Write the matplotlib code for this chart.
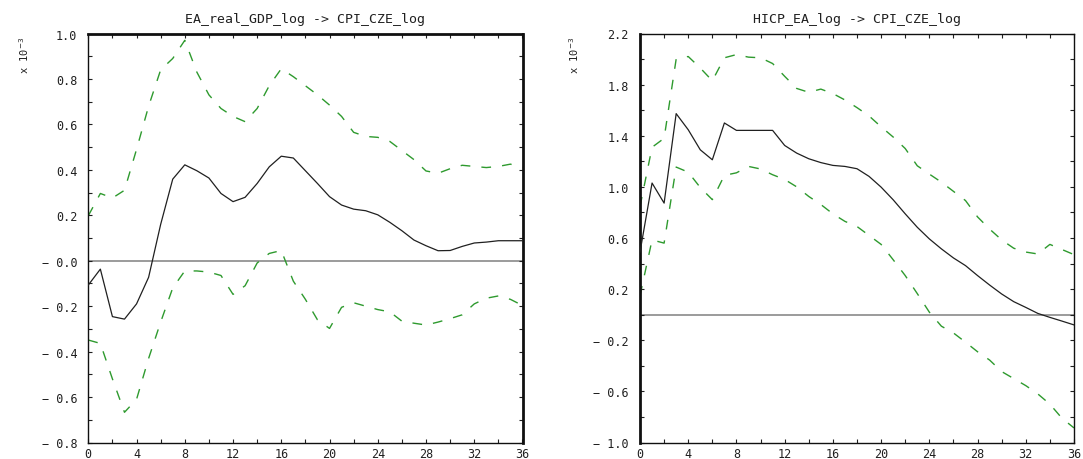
import matplotlib
matplotlib.use("Agg")
import matplotlib.pyplot as plt
from matplotlib.ticker import MultipleLocator, FixedLocator, FixedFormatter
import numpy as np

# ---------------- data ----------------
horizon = list(range(37))

titles = ["EA_real_GDP_log -> CPI_CZE_log", "HICP_EA_log -> CPI_CZE_log"]
scale_label = "x 10$^{-3}$"

gdp_irf = [-0.107, -0.037, -0.246, -0.257, -0.19, -0.073, 0.16, 0.359, 0.422, 0.396,
           0.364, 0.296, 0.26, 0.279, 0.34, 0.413, 0.46, 0.452, 0.396, 0.34,
           0.282, 0.245, 0.227, 0.22, 0.202, 0.169, 0.132, 0.091, 0.066, 0.044,
           0.045, 0.063, 0.078, 0.082, 0.088, 0.088, 0.088]
gdp_upper = [0.198, 0.296, 0.276, 0.31, 0.49, 0.68, 0.84, 0.89, 0.97, 0.83,
             0.73, 0.67, 0.635, 0.612, 0.67, 0.77, 0.845, 0.81, 0.77, 0.73,
             0.685, 0.635, 0.565, 0.547, 0.543, 0.525, 0.485, 0.445, 0.395, 0.385,
             0.405, 0.42, 0.415, 0.41, 0.415, 0.425, 0.41]
gdp_lower = [-0.349, -0.364, -0.52, -0.667, -0.61, -0.43, -0.27, -0.12, -0.045, -0.045,
             -0.05, -0.065, -0.148, -0.11, -0.01, 0.032, 0.045, -0.09, -0.17, -0.26,
             -0.298, -0.205, -0.185, -0.2, -0.215, -0.225, -0.266, -0.275, -0.283, -0.27,
             -0.255, -0.238, -0.19, -0.165, -0.155, -0.17, -0.197]

hicp_irf = [0.49, 1.03, 0.873, 1.573, 1.447, 1.29, 1.212, 1.5, 1.442, 1.442,
            1.442, 1.442, 1.324, 1.264, 1.22, 1.19, 1.168, 1.16, 1.142, 1.082,
            0.998, 0.899, 0.789, 0.684, 0.593, 0.515, 0.444, 0.384, 0.306, 0.232,
            0.162, 0.102, 0.057, 0.01, -0.021, -0.05, -0.08]
hicp_upper = [0.846, 1.31, 1.38, 2.0, 2.02, 1.93, 1.83, 2.01, 2.035, 2.015,
              2.01, 1.965, 1.865, 1.77, 1.74, 1.765, 1.73, 1.68, 1.62, 1.555,
              1.47, 1.39, 1.3, 1.165, 1.1, 1.037, 0.965, 0.893, 0.765, 0.67,
              0.585, 0.52, 0.49, 0.475, 0.55, 0.51, 0.47]
hicp_lower = [0.149, 0.585, 0.56, 1.155, 1.115, 0.995, 0.9, 1.09, 1.11, 1.16,
              1.14, 1.095, 1.058, 1.0, 0.925, 0.862, 0.789, 0.73, 0.69, 0.62,
              0.55, 0.43, 0.306, 0.165, 0.02, -0.09, -0.143, -0.215, -0.29, -0.355,
              -0.445, -0.5, -0.555, -0.62, -0.70, -0.81, -0.886]

x_ticks = [0, 4, 8, 12, 16, 20, 24, 28, 32, 36]
left_yticks = [1.0, 0.8, 0.6, 0.4, 0.2, 0.0, -0.2, -0.4, -0.6, -0.8]
left_ylabels = ["1.0", "0.8", "0.6", "0.4", "0.2", "\u2212 0.0", "\u2212 0.2", "\u2212 0.4", "\u2212 0.6", "\u2212 0.8"]
right_yticks = [2.2, 1.8, 1.4, 1.0, 0.6, 0.2, -0.2, -0.6, -1.0]
right_ylabels = ["2.2", "1.8", "1.4", "1.0", "0.6", "0.2", "\u2212 0.2", "\u2212 0.6", "\u2212 1.0"]

# ---------------- figure ----------------
plt.rcParams['font.family'] = ['DejaVu Sans Mono', 'DejaVu Sans']
fig = plt.figure(figsize=(10.83, 4.60), dpi=100)

W, H = 1083.0, 460.0
green = '#2e9a2e'

panels = [
    dict(x0=88.3, x1=522.5, ylim=(-0.8, 1.0), irf=gdp_irf, up=gdp_upper, lo=gdp_lower,
         yt=left_yticks, yl=left_ylabels, minor=0.1, title=titles[0], lab_x=24,
         thick=('top', 'right')),
    dict(x0=640.0, x1=1074.0, ylim=(-1.0, 2.2), irf=hicp_irf, up=hicp_upper, lo=hicp_lower,
         yt=right_yticks, yl=right_ylabels, minor=0.2, title=titles[1], lab_x=574,
         thick=('left',)),
]

top_px, bot_px = 34.5, 443.5
for p in panels:
    ax = fig.add_axes([p['x0'] / W, 1 - bot_px / H, (p['x1'] - p['x0']) / W, (bot_px - top_px) / H])
    ax.axhline(0, color='#808080', lw=1.1, zorder=1)
    ax.plot(horizon, p['up'], color=green, lw=1.0, dashes=(7, 8), zorder=2)
    ax.plot(horizon, p['lo'], color=green, lw=1.0, dashes=(7, 8), zorder=2)
    ax.plot(horizon, p['irf'], color='#202020', lw=0.9, zorder=3)
    ax.set_xlim(0, 36)
    ax.set_ylim(*p['ylim'])
    ax.xaxis.set_major_locator(FixedLocator(x_ticks))
    ax.xaxis.set_minor_locator(MultipleLocator(2))
    ax.yaxis.set_major_locator(FixedLocator(p['yt']))
    ax.yaxis.set_major_formatter(FixedFormatter(p['yl']))
    ax.yaxis.set_minor_locator(MultipleLocator(p['minor']))
    ax.set_xticklabels([str(t) for t in x_ticks])
    ax.tick_params(which='both', direction='in', top=True, right=True,
                   length=3, width=0.8, colors='#202020', labelsize=8.5)
    ax.tick_params(axis='y', which='major', pad=8)
    ax.tick_params(axis='x', which='major', pad=3)
    for name, sp in ax.spines.items():
        sp.set_color('#101010')
        sp.set_linewidth(2.0 if name in p['thick'] else 1.0)
    ax.set_title(p['title'], fontsize=9.5, pad=8, color='#202020')
    fig.text(p['lab_x'] / W, 1 - 55 / H, scale_label, rotation=90, fontsize=7.5,
             ha='center', va='center', color='#202020')

fig.savefig('out.png', dpi=100, facecolor='white')
